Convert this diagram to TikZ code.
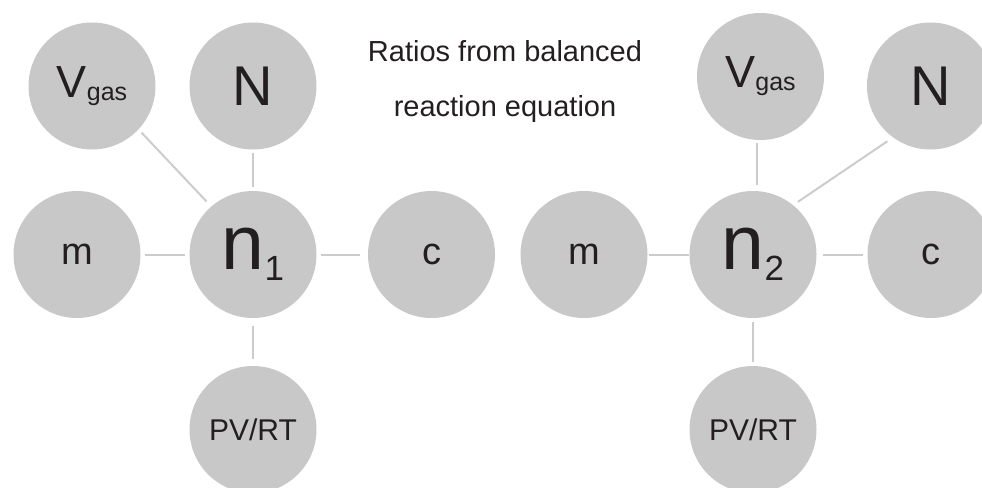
\documentclass[tikz,border=0pt]{standalone}
\usepackage{fontspec}
\setmainfont{Liberation Sans}
\definecolor{cfill}{HTML}{C8C8C8}
\definecolor{cline}{HTML}{CCCCCC}
\definecolor{ctext}{HTML}{231F20}
\newcommand{\fsz}[1]{\fontsize{#1}{#1}\selectfont}
\begin{document}
\begin{tikzpicture}[x=1pt,y=-1pt,
  bub/.style={circle,fill=cfill,minimum size=127pt,inner sep=0pt,outer sep=0pt,text=ctext},
  link/.style={draw=cline,line width=2pt},
  ttl/.style={anchor=base,inner sep=0pt,text=ctext,font=\fsz{29}}]
\useasboundingbox (0,0) rectangle (982,487);
% left group
\node[bub] (vg1) at (92,86) {\fsz{45}V\raisebox{-3pt}{\fsz{25}gas}};
\node[bub] (N1) at (253,86) {\fsz{56}N};
\node[bub] (n1) at (253,254.5) {\fsz{77}n\raisebox{-11pt}{\fsz{35}1}};
\node[bub] (m1) at (77,254.5) {\fsz{38}m};
\node[bub] (c1) at (431.5,254.5) {\fsz{38}c};
\node[bub] (p1) at (253,429.5) {\fsz{30}PV/RT};
% right group
\node[bub] (vg2) at (760.5,76.5) {\fsz{45}V\raisebox{-3pt}{\fsz{25}gas}};
\node[bub] (N2) at (930.5,86) {\fsz{56}N};
\node[bub] (n2) at (753,254.5) {\fsz{77}n\raisebox{-11pt}{\fsz{35}2}};
\node[bub] (m2) at (584,254.5) {\fsz{38}m};
\node[bub] (c2) at (931,254.5) {\fsz{38}c};
\node[bub] (p2) at (753,429.5) {\fsz{30}PV/RT};
% title
\node[ttl] (t1) at (505,62) {Ratios from balanced};
\node[ttl] (t2) at (505,116) {reaction equation};
% connectors left
\draw[link,shorten <=4.5pt,shorten >=7pt] (vg1.317) -- (n1.131);
\draw[link,shorten <=3pt,shorten >=4pt] (N1) -- (n1);
\draw[link,shorten <=4.5pt,shorten >=4.5pt] (m1) -- (n1);
\draw[link,shorten <=4.5pt,shorten >=8pt] (n1) -- (c1);
\draw[link,shorten <=8pt,shorten >=7pt] (n1) -- (p1);
% connectors right
\draw[link,shorten <=3pt,shorten >=6pt] ([xshift=-3.5pt]vg2.south) -- ([xshift=4pt]n2.north);
\draw[link,shorten <=7pt,shorten >=6pt] (N2.234) -- (n2.51);
\draw[link,shorten <=1pt,shorten >=1pt] (m2) -- (n2);
\draw[link,shorten <=6pt,shorten >=5pt] (n2) -- (c2);
\draw[link,shorten <=4pt,shorten >=4pt] (n2) -- (p2);
\end{tikzpicture}
\end{document}
